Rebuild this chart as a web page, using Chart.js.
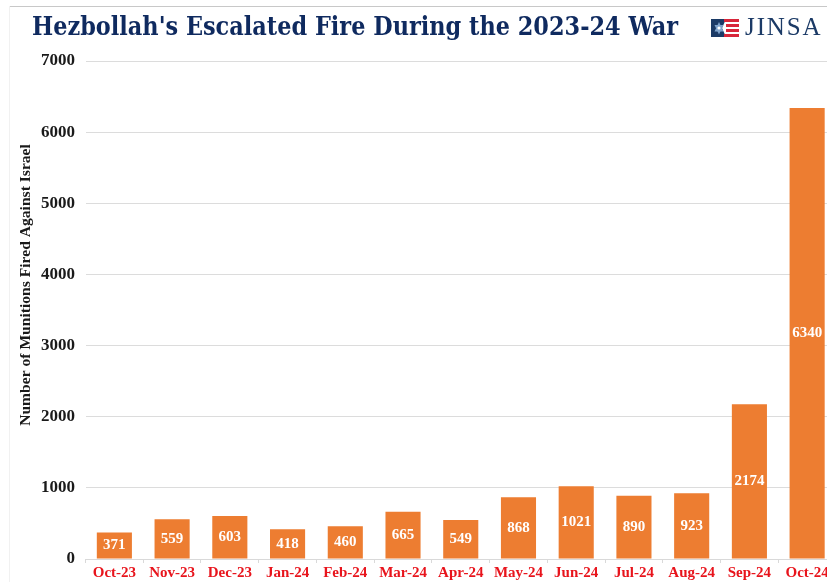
<!DOCTYPE html>
<html><head><meta charset="utf-8">
<style>
html,body{margin:0;padding:0;width:827px;height:582px;overflow:hidden;background:#fff}
#wrap{position:absolute;left:0;top:0;width:836px;height:582px}
#edgeTop{position:absolute;left:9px;right:0;top:6px;height:1px;background:#c8c8c8}
#edgeLeft{position:absolute;left:9px;top:6px;bottom:0;width:1px;background:#f1f1f1}
#title{position:absolute;left:32px;top:11px;font:bold 26px "DejaVu Serif",serif;color:#0f2a5f;white-space:nowrap;transform-origin:0 0}
#logo{position:absolute;left:711px;top:19px}
#jinsa{position:absolute;left:745px;top:13px;font:25px "Liberation Serif",serif;letter-spacing:1.9px;color:#1b3a66}
</style></head><body>
<div id="wrap"><canvas id="c" width="836" height="582"></canvas></div>
<div id="edgeTop"></div><div id="edgeLeft"></div>
<div id="title">Hezbollah's Escalated Fire During the 2023-24 War</div>
<svg id="logo" width="28" height="18" viewBox="0 0 28 18">
<rect width="28" height="18" fill="#fff"/>
<polygon points="0,0 15,0 11,9 15,18 0,18" fill="#1b3a66"/>
<polygon points="8,3 12.5,12.5 3.5,12.5" fill="#7fa3cc"/><polygon points="8,15.5 3.5,6 12.5,6" fill="#7fa3cc"/>
<circle cx="8" cy="9" r="1.6" fill="#fff"/>
<g fill="#d8263a"><rect x="13" y="0" width="15" height="3"/><rect x="15" y="5" width="13" height="3"/><rect x="15" y="10" width="13" height="3"/><rect x="13" y="15" width="15" height="3"/></g>
</svg>
<div id="jinsa">JINSA</div>
<script src="https://cdn.jsdelivr.net/npm/chart.js@4"></script>
<script>
const categories=["Oct-23","Nov-23","Dec-23","Jan-24","Feb-24","Mar-24","Apr-24","May-24","Jun-24","Jul-24","Aug-24","Sep-24","Oct-24"];
const munitions=[371,559,603,418,460,665,549,868,1021,890,923,2174,6340];
const yTitle="Number of Munitions Fired Against Israel";
const serif='"Liberation Serif",serif';
const t=document.getElementById('title');
t.style.transform='scaleX('+(646/t.getBoundingClientRect().width)+')';
const overlay={id:'overlay',afterDatasetsDraw(ch){
 const g=ch.ctx;g.save();g.fillStyle='#fff';g.font='bold 15px '+serif;g.textAlign='center';g.textBaseline='middle';
 ch.getDatasetMeta(0).data.forEach((b,i)=>{g.fillText(String(munitions[i]),b.x,(b.y+b.base)/2);});
 g.restore();
 g.save();g.translate(26,285);g.rotate(-Math.PI/2);g.fillStyle='#1a1a1a';g.font='bold 15.6px '+serif;g.textAlign='center';g.textBaseline='middle';
 g.fillText(yTitle,0,0);g.restore();}};
new Chart(document.getElementById('c'),{type:'bar',
 data:{labels:categories,datasets:[{data:munitions,backgroundColor:'#ed7d31',barPercentage:0.76,categoryPercentage:0.8}]},
 options:{responsive:false,animation:false,
  layout:{padding:{top:61,left:0,right:0,bottom:0}},
  plugins:{legend:{display:false},tooltip:{enabled:false}},
  scales:{
   x:{afterFit(s){s.height=23;},grid:{display:true,drawOnChartArea:false,color:'#d9d9d9',tickLength:4},border:{color:'#d9d9d9'},
      ticks:{color:'#e8141c',font:{family:serif,size:15,weight:'bold'},padding:1,maxRotation:0,autoSkip:false}},
   y:{min:0,max:7000,afterFit(s){s.width=85.5;},grid:{color:'#dcdcdc',drawTicks:false},border:{display:false},
      ticks:{stepSize:1000,callback:v=>String(v),color:'#1a1a1a',font:{family:serif,size:17,weight:'bold'},padding:10.5}}
  }},
 plugins:[overlay]});
</script>
</body></html>
